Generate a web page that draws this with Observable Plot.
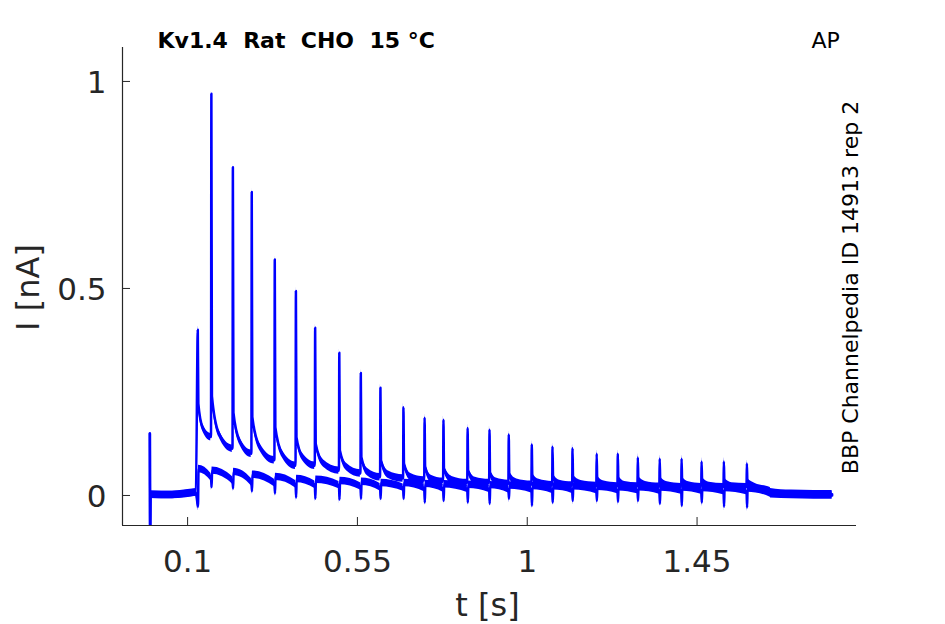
<!DOCTYPE html>
<html>
<head>
<meta charset="utf-8">
<script src="https://cdn.jsdelivr.net/npm/d3@7"></script>
<script src="https://cdn.jsdelivr.net/npm/@observablehq/plot@0.6"></script>
<style>
  body { margin: 0; background: #fff; }
  #chart svg { display: block; }
</style>
</head>
<body>
<div id="chart"></div>
<script>
// ---- Data ----
const xTicks = [0.1, 0.55, 1, 1.45];
const yTicks = [0, 0.5, 1];

// baseline segment before the AP train (shared by both sweeps)
const baseT = [0, 0.0008, 0.002, 0.06, 0.122];
const baseI = [0.15, -0.09, 0.002, 0.001, 0.007];

// AP-evoked spikes
const spikeT = [0.127, 0.163, 0.220, 0.270, 0.331, 0.387, 0.438, 0.502, 0.559, 0.611,
  0.672, 0.728, 0.778, 0.842, 0.900, 0.951, 1.012, 1.067, 1.120, 1.184,
  1.240, 1.293, 1.351, 1.409, 1.462, 1.521, 1.582];
const peakI = [0.40, 0.97, 0.793, 0.733, 0.570, 0.494, 0.405, 0.345, 0.296, 0.260,
  0.213, 0.188, 0.183, 0.163, 0.159, 0.147, 0.123, 0.118, 0.114, 0.101,
  0.101, 0.092, 0.089, 0.089, 0.082, 0.082, 0.077];

// sweep with large tail currents
const upStart = [0.222, 0.24, 0.20, 0.19, 0.165, 0.141, 0.125, 0.109, 0.093, 0.085,
  0.077, 0.070, 0.065, 0.060, 0.055, 0.050, 0.046, 0.045, 0.042, 0.040,
  0.040, 0.038, 0.037, 0.036, 0.035, 0.034, 0.033];
const upMid = [0.165, 0.150, 0.133, 0.117, 0.101, 0.093, 0.077, 0.068, 0.056, 0.050,
  0.044, 0.040, 0.037, 0.035, 0.033, 0.031, 0.030, 0.028, 0.027, 0.026,
  0.025, 0.025, 0.024, 0.024, 0.023, 0.022, 0.020];
const upEnd = [0.141, 0.113, 0.101, 0.085, 0.072, 0.072, 0.060, 0.053, 0.044, 0.041,
  0.036, 0.033, 0.030, 0.030, 0.028, 0.026, 0.025, 0.024, 0.023, 0.022,
  0.022, 0.021, 0.020, 0.020, 0.020, 0.020, 0.010];

// sweep with small tail currents
const loDip = [-0.027, 0.02, 0.017, 0.01, 0.005, -0.005, -0.008, -0.01, -0.008, -0.008,
  -0.008, -0.017, -0.013, -0.017, -0.02, -0.008, -0.025, -0.017, -0.013, -0.013,
  -0.015, -0.013, -0.02, -0.025, -0.017, -0.027, -0.029];
const loStart = [0.064, 0.060, 0.057, 0.050, 0.045, 0.040, 0.038, 0.035, 0.033, 0.030,
  0.030, 0.028, 0.027, 0.026, 0.025, 0.024, 0.023, 0.022, 0.022, 0.021,
  0.020, 0.020, 0.019, 0.019, 0.018, 0.018, 0.017];
const loEnd = [0.044, 0.036, 0.032, 0.030, 0.027, 0.026, 0.025, 0.022, 0.020, 0.019,
  0.018, 0.017, 0.016, 0.016, 0.015, 0.015, 0.014, 0.014, 0.013, 0.013,
  0.013, 0.012, 0.012, 0.012, 0.011, 0.011, 0.005];

// after the train
const tailT = [1.645, 1.70, 1.76, 1.808];
const tailUp = [0.008, 0.004, 0.003, 0.003];
const tailLo = [0.003, 0.001, 0.0, 0.0];

// ---- Build the two sweeps from the read values ----
const upper = [], lower = [];
baseT.forEach((t, k) => { upper.push({t, I: baseI[k]}); lower.push({t, I: baseI[k]}); });
spikeT.forEach((t, i) => {
  const next = i < spikeT.length - 1 ? spikeT[i + 1] : tailT[0];
  const gap = next - t;
  upper.push({t, I: peakI[i]}, {t: t + 0.0015, I: upStart[i]},
             {t: t + 0.35 * gap, I: upMid[i]}, {t: next - 0.001, I: upEnd[i]});
  lower.push({t: t + 0.0006, I: loDip[i]}, {t: t + 0.002, I: loStart[i]},
             {t: next - 0.001, I: loEnd[i]});
});
tailT.forEach((t, k) => { upper.push({t, I: tailUp[k]}); lower.push({t, I: tailLo[k]}); });

const blue = "#0000ff";
const axisColor = "#262626";
const w = 0.009; // half-thickness of the noise band

const traceMarks = (data) => [
  Plot.areaY(data, {x: "t", y1: d => d.I - w, y2: d => d.I + w, fill: blue, curve: "monotone-x", clip: true}),
  Plot.lineY(data, {x: "t", y: "I", stroke: blue, strokeWidth: 2.5, curve: "monotone-x", clip: true})
];

const chart = Plot.plot({
  width: 945,
  height: 624,
  marginLeft: 122,
  marginRight: 89,
  marginTop: 47,
  marginBottom: 99,
  style: {fontFamily: "DejaVu Sans, sans-serif", fontSize: "31px", color: axisColor, background: "#fff"},
  x: {domain: [-0.0725, 1.8725], label: null},
  y: {domain: [-0.0725, 1.082], label: null},
  marks: [
    ...traceMarks(lower),
    ...traceMarks(upper),
    Plot.ruleX([-0.0725], {stroke: axisColor, strokeWidth: 1.2}),
    Plot.ruleY([-0.0725], {stroke: axisColor, strokeWidth: 1.2}),
    Plot.tickX(xTicks, {x: d => d, stroke: axisColor, insetTop: 470}),
    Plot.tickY(yTicks, {y: d => d, stroke: axisColor, insetRight: 726}),
    Plot.axisX(xTicks, {tickSize: 0, tickPadding: 24, tickFormat: d => String(d), label: null, fontSize: 31}),
    Plot.axisY(yTicks, {tickSize: 0, tickPadding: 16, tickFormat: d => String(d), label: null, fontSize: 31, dy: 2}),
    Plot.text(["I [nA]"], {text: d => d, frameAnchor: "left", rotate: -90, dx: -84, dy: 1, lineAnchor: "bottom", textAnchor: "middle", fontSize: 32, fill: axisColor}),
    Plot.text(["t [s]"], {text: d => d, frameAnchor: "bottom", dx: -2, dy: 90, lineAnchor: "bottom", textAnchor: "middle", fontSize: 32, fill: axisColor}),
    Plot.text(["Kv1.4\u00a0\u00a0Rat\u00a0\u00a0CHO\u00a0\u00a015 °C"], {text: d => d, frameAnchor: "top-left", dx: 35, dy: 0, lineAnchor: "bottom", textAnchor: "start", fontSize: 22, fontWeight: "bold", fill: "#000"}),
    Plot.text(["AP"], {text: d => d, frameAnchor: "top-right", dx: -45, dy: 0, lineAnchor: "bottom", textAnchor: "start", fontSize: 22, fill: "#000"}),
    Plot.text(["BBP Channelpedia ID 14913 rep 2"], {text: d => d, frameAnchor: "right", rotate: -90, dx: 1, dy: 1, lineAnchor: "bottom", textAnchor: "middle", fontSize: 22, fill: "#000"})
  ]
});
document.getElementById("chart").appendChild(chart);
</script>
</body>
</html>
